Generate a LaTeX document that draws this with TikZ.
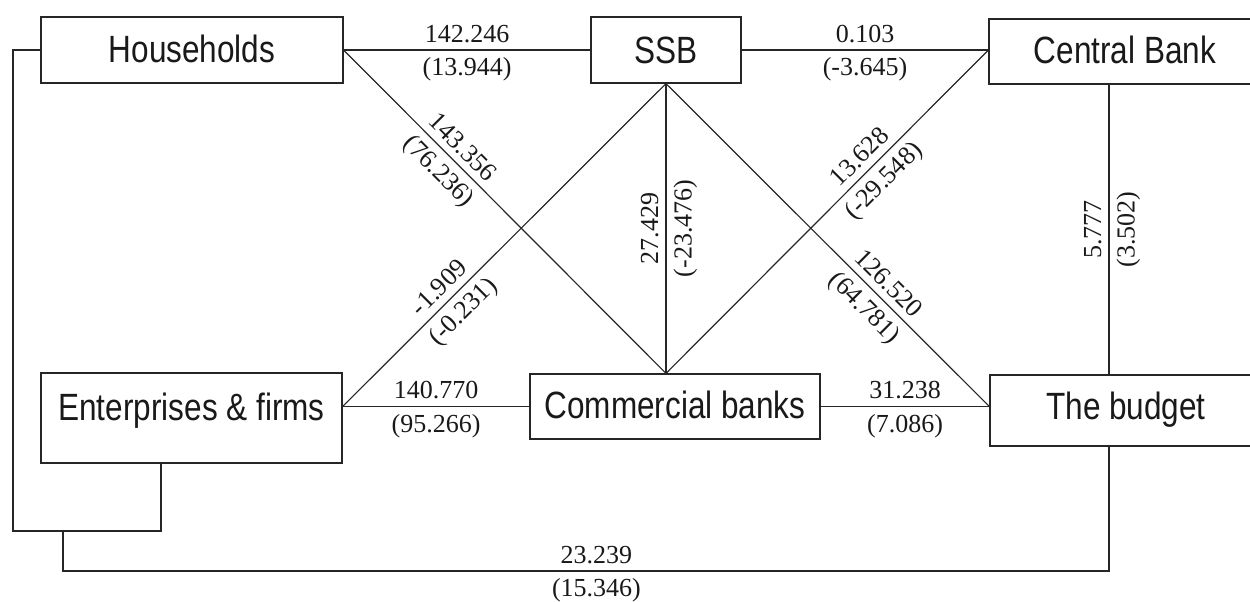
\documentclass[tikz,border=0pt]{standalone}
\usepackage{fontspec}
\setmainfont{Liberation Serif}
\newfontfamily\boxfont[FakeStretch=0.83]{Liberation Sans}
\begin{document}
\begin{tikzpicture}[x=0.5pt,y=-0.5pt,
  box/.style={draw=black!85, line width=0.6pt, inner sep=0pt, text=black!90,
    font=\boxfont\fontsize{19}{19}\selectfont, anchor=base},
  conn/.style={draw=black!85, line width=0.6pt},
  lab/.style={font=\fontsize{13}{13}\selectfont, inner sep=3.5pt, text=black!90},
]
\useasboundingbox (0,0) rectangle (1250,601);

\node[box, minimum width=151pt, text height=22.5pt, text depth=10.5pt] (hh) at (192,62) {Households};
\node[box, minimum width=75pt, text height=23pt, text depth=10pt] (ssb) at (666,63) {SSB};
\node[box, minimum width=136pt, text height=22pt, text depth=10.5pt] (cb) at (1125,63) {Central Bank};
\node[box, minimum width=150.5pt, text height=23.5pt, text depth=21.5pt] (ent) at (191.5,420) {Enterprises \& firms};
\node[box, minimum width=145pt, text height=22pt, text depth=10.5pt] (cmb) at (675,418) {Commercial banks};
\node[box, minimum width=136pt, text height=22pt, text depth=13.5pt] (bud) at (1126,419) {The budget};

\coordinate (ct) at (ssb.south |- cmb.north);
\coordinate (ee) at (ent.east |- cmb.west);
\coordinate (bw) at (bud.west |- cmb.east);
\coordinate (cw) at (cb.west |- ssb.east);
\coordinate (vx) at (1109,0);
\coordinate (cbs) at (vx |- cb.south);
\coordinate (budn) at (vx |- bud.north);
\coordinate (buds) at (vx |- bud.south);
\coordinate (lb) at (13,531);
\coordinate (es) at (161,0);
\coordinate (bx) at (63,531);
\coordinate (by) at (63,571);

% loop from households to enterprises
\draw[conn] (hh.west) -| (lb) -| (es |- ent.south);
% bottom connector to the budget
\draw[conn] (bx) -- (by) -- node[lab, above, pos=0.51]{23.239} node[lab, below, pos=0.51]{(15.346)} (by -| buds) -- (buds);

\draw[conn] (hh.east) -- node[lab, above]{142.246} node[lab, below]{(13.944)} (hh.east -| ssb.west);
\draw[conn] (ssb.east) -- node[lab, above]{0.103} node[lab, below]{(-3.645)} (cw);
\draw[conn] (hh.east) -- node[lab, sloped, above, pos=0.335]{143.356} node[lab, sloped, below, pos=0.335]{(76.236)} (ct);
\draw[conn] (ee) -- node[lab, sloped, above, pos=0.333]{-1.909} node[lab, sloped, below, pos=0.333]{(-0.231)} (ssb.south);
\draw[conn] (ct) -- node[lab, sloped, above]{27.429} node[lab, sloped, below]{(-23.476)} (ssb.south);
\draw[conn] (ct) -- node[lab, sloped, above, pos=0.635]{13.628} node[lab, sloped, below, pos=0.635]{(-29.548)} (cw);
\draw[conn] (ssb.south) -- node[lab, sloped, above, pos=0.654]{126.520} node[lab, sloped, below, pos=0.654]{(64.781)} (bw);
\draw[conn] (ee) -- node[lab, above]{140.770} node[lab, below]{(95.266)} (cmb.west);
\draw[conn] (cmb.east) -- node[lab, above]{31.238} node[lab, below]{(7.086)} (bw);
\draw[conn] (budn) -- node[lab, sloped, above]{5.777} node[lab, sloped, below]{(3.502)} (cbs);
\end{tikzpicture}
\end{document}
